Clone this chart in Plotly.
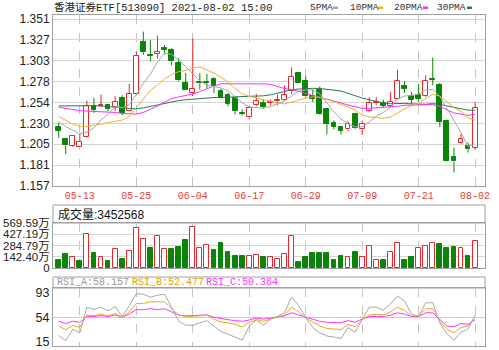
import plotly.graph_objects as go

# ---------------- data ----------------
dates = ["05-10","05-11","05-12","05-13","05-14","05-17","05-18","05-19","05-20","05-21",
         "05-24","05-25","05-26","05-27","05-28","05-31","06-01","06-02","06-03","06-04",
         "06-07","06-08","06-09","06-10","06-11","06-15","06-16","06-17","06-18","06-21",
         "06-22","06-23","06-24","06-25","06-28","06-29","06-30","07-01","07-02","07-05",
         "07-06","07-07","07-08","07-09","07-12","07-13","07-14","07-15","07-16","07-19",
         "07-20","07-21","07-22","07-23","07-26","07-27","07-28","07-29","07-30","08-02"]

open_ = [1.2255,1.2112,1.2035,1.2028,1.2139,1.2497,1.2494,1.2509,1.2486,1.2594,
         1.2447,1.2640,1.3241,1.3094,1.3102,1.3171,1.3152,1.2998,1.2767,1.2655,
         1.2779,1.2779,1.2817,1.2678,1.2632,1.2594,1.2424,1.2370,1.2509,1.2536,
         1.2532,1.2555,1.2574,1.2671,1.2882,1.2786,1.2613,1.2690,1.2459,1.2305,
         1.2255,1.2228,1.2401,1.2228,1.2440,1.2532,1.2536,1.2497,1.2586,1.2728,
         1.2613,1.2632,1.2613,1.2817,1.2740,1.2324,1.1908,1.2074,1.2035,1.2016]
high = [1.2305,1.2132,1.2163,1.2178,1.2563,1.2594,1.2632,1.2524,1.2613,1.2625,
        1.2759,1.3133,1.3364,1.3267,1.3318,1.3210,1.3171,1.3056,1.2882,1.3287,
        1.2882,1.2871,1.2832,1.2701,1.2651,1.2613,1.2459,1.2497,1.2640,1.2574,
        1.2574,1.2632,1.2740,1.2948,1.2882,1.2844,1.2690,1.2728,1.2459,1.2332,
        1.2267,1.2324,1.2420,1.2332,1.2601,1.2601,1.2574,1.2663,1.2921,1.2786,
        1.2663,1.2755,1.2856,1.3063,1.2767,1.2343,1.2016,1.2178,1.2074,1.2548]
low = [1.2132,1.1939,1.2024,1.2024,1.2132,1.2420,1.2486,1.2440,1.2440,1.2393,
       1.2440,1.2632,1.3094,1.3017,1.3048,1.3102,1.2971,1.2786,1.2690,1.2613,
       1.2690,1.2709,1.2651,1.2586,1.2497,1.2401,1.2393,1.2343,1.2497,1.2470,
       1.2509,1.2509,1.2563,1.2640,1.2767,1.2594,1.2548,1.2393,1.2170,1.2228,
       1.2170,1.2209,1.2228,1.2163,1.2432,1.2509,1.2478,1.2478,1.2574,1.2651,
       1.2524,1.2548,1.2601,1.2740,1.2255,1.1855,1.1727,1.2063,1.1958,1.1997]
close = [1.2209,1.2043,1.2151,1.2082,1.2497,1.2451,1.2513,1.2463,1.2548,1.2413,
         1.2640,1.3086,1.3125,1.3079,1.3125,1.3156,1.3017,1.2798,1.2690,1.2695,
         1.2763,1.2767,1.2728,1.2594,1.2524,1.2440,1.2409,1.2478,1.2555,1.2486,
         1.2548,1.2574,1.2632,1.2840,1.2767,1.2613,1.2586,1.2401,1.2293,1.2255,
         1.2209,1.2293,1.2240,1.2293,1.2536,1.2548,1.2497,1.2548,1.2786,1.2701,
         1.2574,1.2586,1.2786,1.2802,1.2317,1.1862,1.1855,1.2113,1.1997,1.2478]

ma5 = [1.2316,1.2260,1.2220,1.2175,1.2196,1.2245,1.2339,1.2401,1.2494,1.2478,
       1.2515,1.2630,1.2762,1.2869,1.3011,1.3114,1.3100,1.3035,1.2957,1.2871,
       1.2792,1.2742,1.2728,1.2709,1.2675,1.2611,1.2539,1.2489,1.2481,1.2474,
       1.2495,1.2528,1.2559,1.2616,1.2672,1.2685,1.2688,1.2641,1.2532,1.2430,
       1.2349,1.2290,1.2258,1.2258,1.2314,1.2382,1.2423,1.2484,1.2583,1.2616,
       1.2621,1.2639,1.2687,1.2690,1.2613,1.2471,1.2324,1.2190,1.2029,1.2061]
ma10 = [1.2378,1.2330,1.2290,1.2265,1.2260,1.2275,1.2290,1.2300,1.2320,1.2337,
        1.2380,1.2484,1.2582,1.2682,1.2744,1.2815,1.2865,1.2899,1.2913,1.2941,
        1.2954,1.2922,1.2882,1.2834,1.2774,1.2702,1.2641,1.2609,1.2596,1.2574,
        1.2553,1.2534,1.2524,1.2549,1.2573,1.2590,1.2608,1.2600,1.2574,1.2551,
        1.2517,1.2489,1.2450,1.2395,1.2372,1.2365,1.2357,1.2371,1.2421,1.2465,
        1.2502,1.2531,1.2586,1.2636,1.2615,1.2546,1.2482,1.2438,1.2359,1.2337]
ma20 = [1.2486,1.2470,1.2455,1.2445,1.2440,1.2437,1.2437,1.2433,1.2425,1.2413,
        1.2405,1.2405,1.2425,1.2460,1.2500,1.2545,1.2585,1.2605,1.2620,1.2639,
        1.2667,1.2703,1.2732,1.2758,1.2759,1.2758,1.2753,1.2754,1.2754,1.2757,
        1.2752,1.2727,1.2702,1.2690,1.2672,1.2645,1.2624,1.2604,1.2584,1.2562,
        1.2534,1.2511,1.2487,1.2472,1.2472,1.2478,1.2482,1.2486,1.2497,1.2508,
        1.2509,1.2510,1.2518,1.2516,1.2493,1.2456,1.2419,1.2405,1.2390,1.2401]
ma30 = [1.2500,1.2502,1.2504,1.2505,1.2505,1.2503,1.2500,1.2495,1.2488,1.2480,
        1.2470,1.2468,1.2478,1.2495,1.2515,1.2535,1.2550,1.2562,1.2572,1.2580,
        1.2588,1.2594,1.2598,1.2600,1.2602,1.2604,1.2606,1.2609,1.2613,1.2618,
        1.2629,1.2647,1.2663,1.2688,1.2697,1.2703,1.2705,1.2703,1.2695,1.2689,
        1.2674,1.2647,1.2618,1.2592,1.2572,1.2552,1.2535,1.2526,1.2529,1.2530,
        1.2524,1.2518,1.2520,1.2527,1.2520,1.2501,1.2482,1.2470,1.2451,1.2451]

volume_wan = [107,176,141,90,433,184,141,90,236,116,
              214,505,368,248,407,236,236,261,355,518,
              248,287,227,313,201,150,150,158,163,133,
              133,111,171,407,77,133,184,184,184,99,
              150,141,201,133,278,99,99,206,313,99,
              141,248,278,313,300,248,261,248,150,345.26]

rsi_a = [25.5,17,35.5,29.5,70.5,67,70.5,64.5,71.5,55.5,
         73,92,91,86.5,89.5,91,70.5,48,42,41.5,
         45.5,49,40.5,31.5,27.5,23,18,40,50.5,41.5,
         51.5,55.5,61.5,86.5,73,54,38,29.5,24.5,23,
         20.5,38,30.5,50.5,70.5,70.5,65.5,75.5,88,80.5,
         59.5,55.5,77.5,77.5,45.5,28,18,30.5,35.5,58.157]
rsi_b = [40.5,34.5,41.5,38,58,57,59.5,56.5,60.5,54.5,
         63,76.5,76.5,79,79,79,68,58,55.5,55.5,
         56.5,58,51.5,46.5,45.5,43,39,46,50.5,48,
         51,54.5,58,70.5,63,53,46.5,40.5,36.5,35.5,
         34.5,43,39.5,50.5,58,59,58,63,70.5,65.5,
         56.5,56.5,68,68,48,35.5,29.5,38,40.5,52.477]
rsi_c = [48,44.5,48,46.5,55.5,55.5,57,55.5,58,54.5,
         59.5,66.5,66.5,68,66.5,68,63,58,56.5,57,
         57.5,58,54.5,52,50.5,49,48,50,53,51.5,
         53,54.5,56.5,61.5,58,54,50.5,48,46.5,45.5,
         45.5,49,46.5,51.5,55.5,55.5,55.5,57.5,61.5,59.5,
         55.5,55.5,61.5,61.5,50.5,40.5,39.5,44.5,43,50.364]

tick_dates = ["05-13","05-25","06-04","06-17","06-29","07-09","07-21","08-02"]
price_ticks = [1.157,1.18125,1.2055,1.22975,1.254,1.27825,1.3025,1.32675,1.351]
price_tick_text = ["1.157","1.181","1.205","1.230","1.254","1.278","1.303","1.327","1.351"]
vol_ticks = [0,142.40,284.79,427.19,569.59]
vol_tick_text = ["0","142.40万","284.79万","427.19万","569.59万"]
rsi_ticks = [15,54,93]

title_text = "香港证券ETF[513090] 2021-08-02 15:00"
vol_header = "成交量:3452568"

# ---------------- style ----------------
W, H = 499, 350
def pxx(p): return p / W
def pxy(p): return 1 - p / H

RED = "#e8262d"
GREEN = "#0a850a"
C_MA5 = "#a8a8a8"
C_MA10 = "#f0b030"
C_MA20 = "#ff2cff"
C_MA30 = "#2a7a50"
BORDER = "#a0a0a0"
GRID_H = "#d4d4d4"
GRID_V = "#c4c4c4"
MONO = "Liberation Mono, Noto Sans CJK SC, monospace"
SANS = "Liberation Sans, Noto Sans CJK SC, sans-serif"

X0, X1 = 53, 485
xdom = [pxx(X0), pxx(X1)]
xrange_ = [-0.8, 60.4]

fig = go.Figure()

# --- wicks (upper and lower segments, so hollow bodies stay clean) ---
for col, is_up in ((RED, True), (GREEN, False)):
    wx, wy = [], []
    for d, o, h, l, c in zip(dates, open_, high, low, close):
        if (c >= o) != is_up:
            continue
        top, bot = max(o, c), min(o, c)
        wx += [d, d, None, d, d, None]
        wy += [h, top, None, bot, l, None]
    fig.add_trace(go.Scatter(x=wx, y=wy, mode="lines", line=dict(color=col, width=1),
                             hoverinfo="skip", xaxis="x", yaxis="y", connectgaps=False))

# --- bodies ---
body_base = [min(o, c) for o, c in zip(open_, close)]
body_h = [abs(c - o) for o, c in zip(open_, close)]
up = [c >= o for o, c in zip(open_, close)]
fig.add_trace(go.Bar(x=dates, y=body_h, base=body_base, width=0.68,
                     marker=dict(color=["white" if u else GREEN for u in up],
                                 line=dict(color=[RED if u else GREEN for u in up], width=1)),
                     xaxis="x", yaxis="y", hoverinfo="skip"))

# --- moving averages ---
for arr, col in ((ma30, C_MA30), (ma20, C_MA20), (ma10, C_MA10), (ma5, C_MA5)):
    fig.add_trace(go.Scatter(x=dates, y=arr, mode="lines", line=dict(color=col, width=1),
                             hoverinfo="skip", xaxis="x", yaxis="y"))

# --- volume ---
vol_up = [False] + [close[i] >= close[i - 1] for i in range(1, len(close))]
fig.add_trace(go.Bar(x=dates, y=volume_wan, width=0.68,
                     marker=dict(color=["white" if u else GREEN for u in vol_up],
                                 line=dict(color=[RED if u else GREEN for u in vol_up], width=1)),
                     xaxis="x2", yaxis="y2", hoverinfo="skip"))

# --- RSI ---
for arr, col in ((rsi_c, "#ff33ff"), (rsi_b, "#f0a820"), (rsi_a, "#a8a8a8")):
    fig.add_trace(go.Scatter(x=dates, y=arr, mode="lines", line=dict(color=col, width=1),
                             hoverinfo="skip", xaxis="x3", yaxis="y3"))

xcommon = dict(type="category", categoryorder="array", categoryarray=dates,
               domain=xdom, range=xrange_, tickvals=tick_dates,
               ticktext=tick_dates, showgrid=True, gridcolor=GRID_V, griddash="dash",
               gridwidth=1, showline=True, mirror=True, linecolor=BORDER, linewidth=1,
               zeroline=False, ticks="", automargin=False, fixedrange=True)

fig.update_layout(
    width=W, height=H, margin=dict(l=0, r=0, t=0, b=0),
    paper_bgcolor="white", plot_bgcolor="white", showlegend=False,
    barmode="overlay", bargap=0,
    xaxis=dict(**xcommon, anchor="y", showticklabels=True,
               tickfont=dict(family=MONO, size=10, color="#e8403a")),
    yaxis=dict(domain=[pxy(186), pxy(15)], range=[1.157, 1.3557], tickvals=price_ticks,
               ticktext=price_tick_text, showgrid=True, gridcolor=GRID_H, gridwidth=1,
               showline=True, mirror=True, linecolor=BORDER, zeroline=False, ticks="",
               tickfont=dict(family=SANS, size=12, color="#222"), automargin=False,
               anchor="x", fixedrange=True),
    xaxis2=dict(**xcommon, anchor="y2", showticklabels=False),
    yaxis2=dict(domain=[pxy(268), pxy(223)], range=[0, 569.59], tickvals=vol_ticks,
                ticktext=vol_tick_text, showgrid=True, gridcolor=GRID_H, gridwidth=1,
                showline=True, mirror=True, linecolor=BORDER, zeroline=False, ticks="",
                tickfont=dict(family=SANS, size=11.5, color="#222"), automargin=False,
                anchor="x2", fixedrange=True),
    xaxis3=dict(**xcommon, anchor="y3", showticklabels=False),
    yaxis3=dict(domain=[pxy(346), pxy(288)], range=[8.6, 101.0], tickvals=rsi_ticks,
                showgrid=False, showline=True, mirror=True, linecolor=BORDER,
                zeroline=False, ticks="", tickfont=dict(family=SANS, size=12.5, color="#222"),
                ticklabeloverflow="allow",
                automargin=False, anchor="x3", fixedrange=True),
)

shapes = []
# header boxes
for top, bot in ((205, 223), (277, 288)):
    shapes.append(dict(type="rect", xref="paper", yref="paper", x0=pxx(X0), x1=pxx(X1),
                       y0=pxy(bot), y1=pxy(top), line=dict(color=BORDER, width=1),
                       fillcolor="white", layer="below"))
# RSI 54 line
shapes.append(dict(type="line", xref="x3 domain", yref="y3", x0=0, x1=1, y0=54, y1=54,
                   line=dict(color="#cccccc", width=1), layer="below"))

# legend
legend = [("5PMA", 308, 333, C_MA5), ("10PMA", 348, 378, C_MA10),
          ("20PMA", 392, 423, C_MA20), ("30PMA", 435, 467, C_MA30)]
annotations = []
for name, tx, dx, col in legend:
    annotations.append(dict(text=name, x=pxx(tx), y=pxy(7.5), xref="paper", yref="paper",
                            xanchor="left", yanchor="middle", showarrow=False,
                            font=dict(family=MONO, size=9.5, color="#333")))
    shapes.append(dict(type="rect", xref="paper", yref="paper", x0=pxx(dx), x1=pxx(dx + 5),
                       y0=pxy(9), y1=pxy(6.5), line=dict(width=0), fillcolor=col))

annotations.append(dict(text=title_text, x=pxx(52), y=pxy(7.5), xref="paper", yref="paper",
                        xanchor="left", yanchor="middle", showarrow=False,
                        font=dict(family=MONO, size=10.5, color="#222")))
annotations.append(dict(text=vol_header, x=pxx(56), y=pxy(214.5), xref="paper", yref="paper",
                        xanchor="left", yanchor="middle", showarrow=False,
                        font=dict(family=SANS, size=12, color="#111")))
rsi_hdr = [("RSI_A:%.3f" % rsi_a[-1], 55, "#999999"),
           ("RSI_B:%.3f" % rsi_b[-1], 130, "#e0a000"),
           ("RSI_C:%.3f" % rsi_c[-1], 204, "#ff33ff")]
for txt, x, col in rsi_hdr:
    annotations.append(dict(text=txt, x=pxx(x), y=pxy(282.5), xref="paper", yref="paper",
                            xanchor="left", yanchor="middle", showarrow=False,
                            font=dict(family=MONO, size=10, color=col)))

fig.update_layout(shapes=shapes, annotations=annotations)
fig.write_html("out.html")
